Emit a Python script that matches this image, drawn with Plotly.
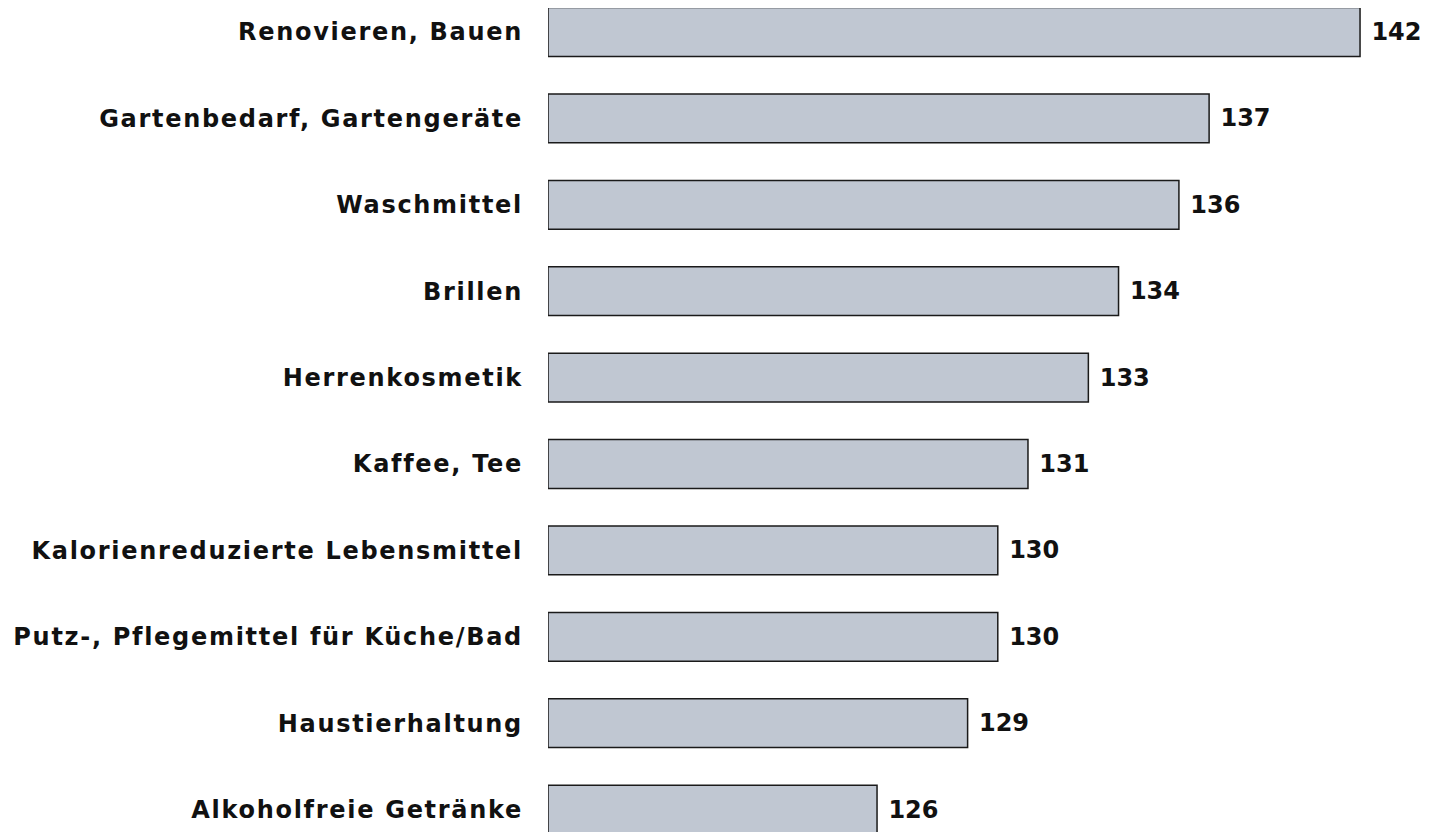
import plotly.graph_objects as go

categories = ["Renovieren, Bauen", "Gartenbedarf, Gartengeräte", "Waschmittel", "Brillen",
              "Herrenkosmetik", "Kaffee, Tee", "Kalorienreduzierte Lebensmittel",
              "Putz-, Pflegemittel für Küche/Bad", "Haustierhaltung", "Alkoholfreie Getränke"]
values = [142, 137, 136, 134, 133, 131, 130, 130, 129, 126]
base_value = 115.1

W, H = 1430, 832
left = 540
px_per_unit = (1360 - 877) / 16.0
x_max = base_value + (W - left) / px_per_unit
band = 86.4
y_top = -24 / band
y_bot = y_top + H / band

FONT = "DejaVu Sans"
fig = go.Figure(go.Bar(
    y=categories, x=[v - base_value for v in values], base=base_value,
    orientation="h", width=0.565,
    marker=dict(color="#c0c7d2", line=dict(color="#1a1a1a", width=1.5)),
    text=["\u00a0" + str(v) for v in values], textposition="outside",
    textfont=dict(family=FONT, size=24, color="#111111", weight="bold"),
    cliponaxis=False, hoverinfo="skip",
))
fig.update_layout(
    width=W, height=H, margin=dict(l=left, r=0, t=0, b=0),
    plot_bgcolor="white", paper_bgcolor="white", showlegend=False,
    font=dict(family=FONT, size=24, color="#111111", weight="bold"),
    xaxis=dict(range=[base_value, x_max], visible=False, showgrid=False, zeroline=False),
    yaxis=dict(range=[y_bot, y_top], showgrid=False, zeroline=False, showline=False,
               ticks="", ticklabelstandoff=24, tickfont=dict(family=FONT, size=24, weight="bold")),
    bargap=0.4,
)
post = """
document.querySelectorAll('.ytick text').forEach(function(t){ t.style.letterSpacing = '1.7px'; });
"""
fig.write_html("out.html", post_script=post)
